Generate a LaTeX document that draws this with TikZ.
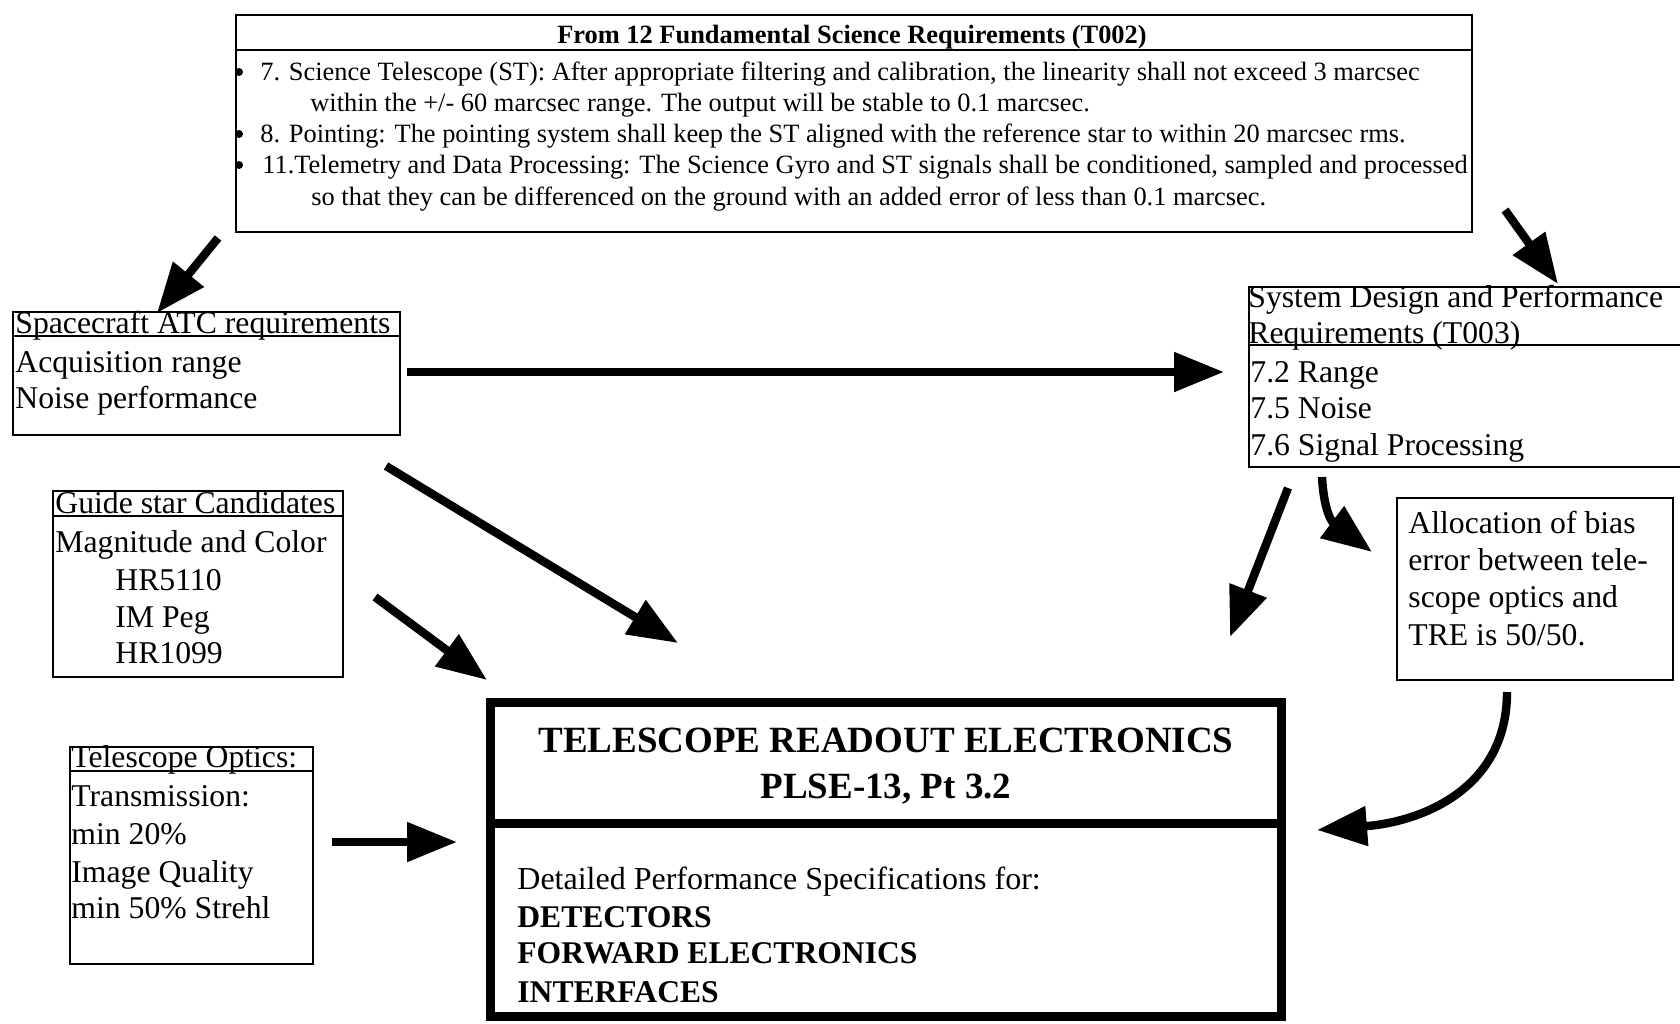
\documentclass[tikz,border=0pt]{standalone}
\usepackage{fontspec}
\setmainfont{Liberation Serif}
\usetikzlibrary{arrows.meta,fit}
\begin{document}
\begin{tikzpicture}[x=0.5pt,y=-0.5pt,
  box/.style={draw, line width=1pt, inner sep=0pt},
  thickbox/.style={draw, line width=4.5pt, inner sep=0pt},
  txt/.style={anchor=base west, inner sep=0pt, font=\fontsize{15.85}{18}\selectfont},
  toptxt/.style={anchor=base west, inner sep=0pt, font=\fontsize{13.2}{15}\selectfont},
  boldtxt/.style={anchor=base west, inner sep=0pt, font=\bfseries\fontsize{15.8}{18}\selectfont},
  titletxt/.style={anchor=base, inner sep=0pt, font=\bfseries\fontsize{18.5}{21}\selectfont},
  dot/.style={circle, fill, inner sep=0pt, minimum size=4pt},
  bigarrow/.style={line width=4.2pt, -{Triangle[length=25pt,width=19pt]}},
]
\useasboundingbox (0,0) rectangle (1680,1023);

% ---------- top box ----------
\node[box, fit={(236,15) (1472,232)}] (top) {};
\draw[line width=1pt] (236,50) -- (1472,50);
\node[anchor=base, inner sep=0pt, font=\bfseries\fontsize{13.2}{15}\selectfont] (toph) at (852,43) {From 12 Fundamental Science Requirements (T002)};
\node[dot] (b1) at (239,72) {};
\node[dot] (b2) at (239,134) {};
\node[dot] (b3) at (239,165) {};
\node[toptxt] (t1) at (260,80) {7. Science Telescope (ST): After appropriate filtering and calibration, the linearity shall not exceed 3 marcsec};
\node[toptxt] (t2) at (310,111) {within the +/- 60 marcsec range. The output will be stable to 0.1 marcsec.};
\node[toptxt] (t3) at (260,142) {8. Pointing: The pointing system shall keep the ST aligned with the reference star to within 20 marcsec rms.};
\node[toptxt] (t4) at (262,173) {11.Telemetry and Data Processing: The Science Gyro and ST signals shall be conditioned, sampled and processed};
\node[toptxt] (t5) at (311,205) {so that they can be differenced on the ground with an added error of less than 0.1 marcsec.};

% ---------- spacecraft ATC ----------
\node[box, fit={(13,312) (400,435)}] (sc) {};
\draw[line width=1pt] (13,336) -- (400,336);
\node[txt] (sch) at (15,333) {Spacecraft ATC requirements};
\node[txt] (sc1) at (15,372) {Acquisition range};
\node[txt] (sc2) at (15,408) {Noise performance};

% ---------- guide star ----------
\node[box, fit={(53,491) (343,677)}] (gs) {};
\draw[line width=1pt] (53,516) -- (343,516);
\node[txt] (gsh) at (55,513) {Guide star Candidates};
\node[txt] (gs1) at (55,552) {Magnitude and Color};
\node[txt] (gs2) at (115,590) {HR5110};
\node[txt] (gs3) at (115,627) {IM Peg};
\node[txt] (gs4) at (115,663) {HR1099};

% ---------- telescope optics ----------
\node[box, fit={(70,747) (313,964)}] (to) {};
\draw[line width=1pt] (70,771) -- (313,771);
\node[txt] (toh) at (71,767) {Telescope Optics:};
\node[txt] (to1) at (71,806) {Transmission:};
\node[txt] (to2) at (71,844) {min 20\%};
\node[txt] (to3) at (71,882) {Image Quality};
\node[txt] (to4) at (71,918) {min 50\% Strehl};

% ---------- system design (runs off right edge) ----------
\begin{scope}
\clip (0,0) rectangle (1680,1023);
\node[box, fit={(1249,287) (1700,467)}] (sys) {};
\draw[line width=1pt] (1249,345) -- (1700,345);
\end{scope}
\node[txt] (sy1) at (1248,307) {System Design and Performance};
\node[txt] (sy2) at (1248,343) {Requirements (T003)};
\node[txt] (sy3) at (1250,382) {7.2 Range};
\node[txt] (sy4) at (1250,418) {7.5 Noise};
\node[txt] (sy5) at (1250,455) {7.6 Signal Processing};

% ---------- allocation ----------
\node[box, fit={(1397,498) (1673,680)}] (al) {};
\node[txt] (al1) at (1408,533) {Allocation of bias};
\node[txt] (al2) at (1408,570) {error between tele-};
\node[txt] (al3) at (1408,607) {scope optics and};
\node[txt] (al4) at (1408,645) {TRE is 50/50.};

% ---------- TRE ----------
\node[thickbox, fit={(490,702) (1281,1016)}] (tre) {};
\draw[line width=4.5pt] (490,823) -- (1281,823);
\node[titletxt] (tre1) at (886,752) {TELESCOPE READOUT ELECTRONICS};
\node[titletxt] (tre2) at (886,798) {PLSE-13, Pt 3.2};
\node[txt, font=\fontsize{16}{18}\selectfont] (tre3) at (517,889) {Detailed Performance Specifications for:};
\node[boldtxt] (tre4) at (517,927) {DETECTORS};
\node[boldtxt] (tre5) at (517,963) {FORWARD ELECTRONICS};
\node[boldtxt] (tre6) at (517,1002) {INTERFACES};

% ---------- arrows ----------
\coordinate (a1s) at (218,238); \coordinate (a1e) at (157,313);
\coordinate (a2s) at (1505,210); \coordinate (a2e) at (1558,284);
\coordinate (a3s) at (407,372);  \coordinate (a3e) at (1224,372);
\coordinate (a4s) at (386,466);  \coordinate (a4e) at (678,643);
\coordinate (a5s) at (375,597);  \coordinate (a5e) at (487,680);
\coordinate (a6s) at (332,842);  \coordinate (a6e) at (457,842);
\coordinate (a7s) at (1288,488); \coordinate (a7e) at (1230,637);
\coordinate (a8s) at (1322,477); \coordinate (a8e) at (1372,552);
\coordinate (a9s) at (1507,692); \coordinate (a9e) at (1317,830);

\draw[bigarrow] (a1s) -- (a1e);
\draw[bigarrow] (a2s) -- (a2e);
\draw[bigarrow] (a3s) -- (a3e);
\draw[bigarrow] (a4s) -- (a4e);
\draw[bigarrow] (a5s) -- (a5e);
\draw[bigarrow] (a6s) -- (a6e);
\draw[bigarrow] (a7s) -- (a7e);
\draw[bigarrow] (a8s) .. controls (1324,512) and (1332,522) .. (a8e);
\draw[bigarrow] (a9s) .. controls (1507,790) and (1420,822) .. (a9e);
\end{tikzpicture}
\end{document}
